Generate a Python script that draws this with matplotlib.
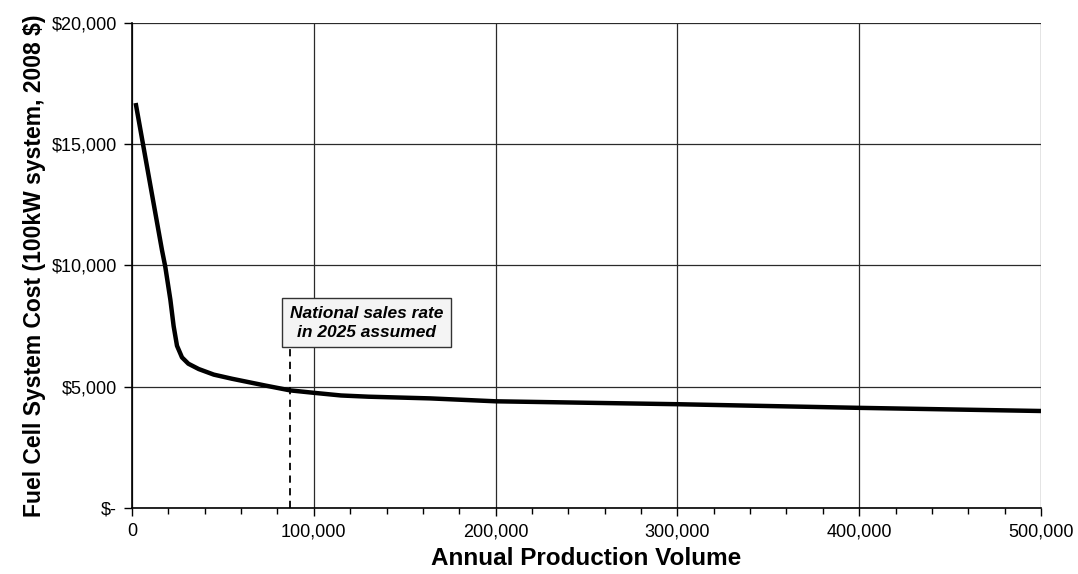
import numpy as np
import matplotlib.pyplot as plt
from matplotlib.ticker import FuncFormatter, MultipleLocator

plt.rcParams['font.family'] = ['Liberation Sans', 'DejaVu Sans']

# annual production volume vs fuel cell system cost
volume = [2000, 10000, 16500, 18300, 21100, 22900, 24750, 27500, 31000, 36700,
          45000, 55000, 73300, 87000, 100000, 115000, 130000, 164000, 200000,
          300000, 400000, 500000]
cost = [16700, 13350, 10630, 9950, 8590, 7500, 6690, 6210, 5950, 5730,
        5500, 5330, 5050, 4850, 4750, 4640, 4590, 4520, 4400,
        4280, 4130, 4000]

sales_rate_2025 = 87000
note_text = "National sales rate\nin 2025 assumed"

fig = plt.figure(figsize=(10.78, 5.74), dpi=100)
ax = fig.add_axes([132 / 1078, 1 - 508 / 574, 909 / 1078, 485 / 574])

ax.plot(volume, cost, color='black', lw=3.2, solid_capstyle='butt',
        solid_joinstyle='round', zorder=3)

# vertical marker for the assumed sales rate
ax.plot([sales_rate_2025, sales_rate_2025], [0, 6650], color='black', lw=1.3,
        ls=(0, (4, 3)), zorder=2)
ax.text(129000, 7640, note_text, ha='center', va='center', fontsize=12.5,
        fontweight='bold', fontstyle='italic', linespacing=1.3, zorder=4,
        bbox=dict(boxstyle='square,pad=0.45', fc='#f4f4f4', ec='#333333', lw=1.0))

ax.set_xlim(0, 500000)
ax.set_ylim(0, 20000)
ax.xaxis.set_major_locator(MultipleLocator(100000))
ax.xaxis.set_minor_locator(MultipleLocator(20000))
ax.yaxis.set_major_locator(MultipleLocator(5000))

ax.xaxis.set_major_formatter(FuncFormatter(lambda v, p: f"{int(v):,}"))
ax.yaxis.set_major_formatter(FuncFormatter(lambda v, p: "$-" if v == 0 else f"${int(v):,}"))

ax.grid(True, which='major', color='#2a2a2a', lw=0.9, zorder=1)
for s in ['top', 'right']:
    ax.spines[s].set_visible(False)
for s in ['left', 'bottom']:
    ax.spines[s].set_linewidth(1.2)

ax.tick_params(axis='both', which='major', direction='out', length=6, width=1,
               labelsize=13)
ax.tick_params(axis='x', which='major', pad=5)
ax.tick_params(axis='y', which='major', pad=5)
ax.tick_params(axis='x', which='minor', direction='out', length=4, width=1)

ax.set_xlabel("Annual Production Volume", fontsize=17.5, fontweight='bold', labelpad=5)
ax.set_ylabel("Fuel Cell System Cost (100kW system, 2008 $)", fontsize=16.5,
              fontweight='bold', labelpad=4)

fig.savefig("out.png", dpi=100)
